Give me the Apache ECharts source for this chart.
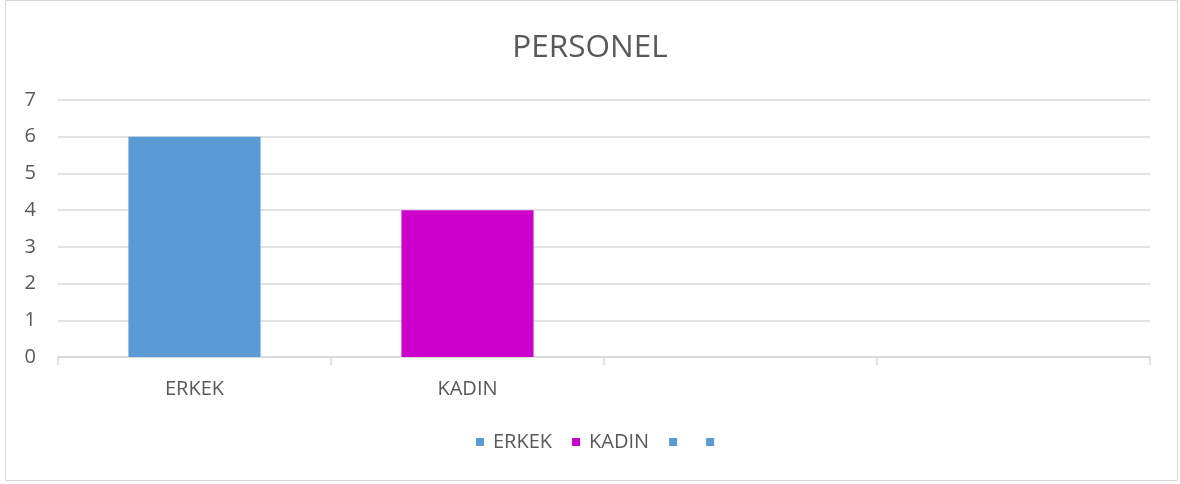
<!DOCTYPE html>
<html>
<head>
<meta charset="utf-8">
<script src="https://cdn.jsdelivr.net/npm/echarts@6/dist/echarts.min.js"></script>
<style>html,body{margin:0;padding:0;background:#fff}#c{width:1180px;height:484px}</style>
</head>
<body>
<div id="c"></div>
<script>
var title = 'PERSONEL';
var categories = ['ERKEK', 'KADIN', '', ''];
var seriesNames = ['ERKEK', 'KADIN', '\u200b', '\u200b\u200b'];
var erkekValues = [6, '-', '-', '-'];
var kadinValues = ['-', 4, '-', '-'];
var blank1Values = ['-', '-', '-', '-'];
var blank2Values = ['-', '-', '-', '-'];
var colors = ['#5B9BD5', '#CC00CC', '#5B9BD5', '#5B9BD5'];
var yTicks = [0, 1, 2, 3, 4, 5, 6, 7];

var allValues = [erkekValues, kadinValues, blank1Values, blank2Values];
var font = 'Open Sans';
var chart = echarts.init(document.getElementById('c'));
chart.setOption({
  animation: false,
  graphic: [{
    type: 'rect', shape: {x: 5.5, y: 0.5, width: 1172, height: 480},
    style: {fill: 'none', stroke: '#d9d9d9', lineWidth: 1}, silent: true
  }],
  title: {
    text: title, left: 'center', top: 27,
    textStyle: {fontFamily: font, fontSize: 31.5, fontWeight: 'normal', color: '#595959'}
  },
  legend: {
    data: seriesNames, bottom: 32, left: 476,
    padding: 0,
    itemWidth: 8, itemHeight: 8, itemGap: 20, icon: 'rect',
    textStyle: {fontFamily: font, fontSize: 20, color: '#595959', padding: [0, 0, 0, 4]}
  },
  grid: {left: 58, right: 30, top: 100, bottom: 127},
  xAxis: {
    type: 'category', data: categories,
    axisLine: {lineStyle: {color: '#d9d9d9', width: 1.5}},
    axisTick: {show: true, length: 8, lineStyle: {color: '#d9d9d9', width: 1.5}},
    axisLabel: {fontFamily: font, fontSize: 20, color: '#595959', margin: 22}
  },
  yAxis: {
    type: 'value', min: yTicks[0], max: yTicks[yTicks.length - 1], interval: 1,
    axisLine: {show: false}, axisTick: {show: false},
    axisLabel: {fontFamily: font, fontSize: 20, color: '#595959', margin: 22},
    splitLine: {lineStyle: {color: '#d9d9d9', width: 1.5}}
  },
  series: seriesNames.map(function (n, i) {
    return {
      name: n, type: 'bar', stack: 'all', data: allValues[i],
      barWidth: '48.4%', itemStyle: {color: colors[i]}
    };
  })
});
</script>
</body>
</html>
